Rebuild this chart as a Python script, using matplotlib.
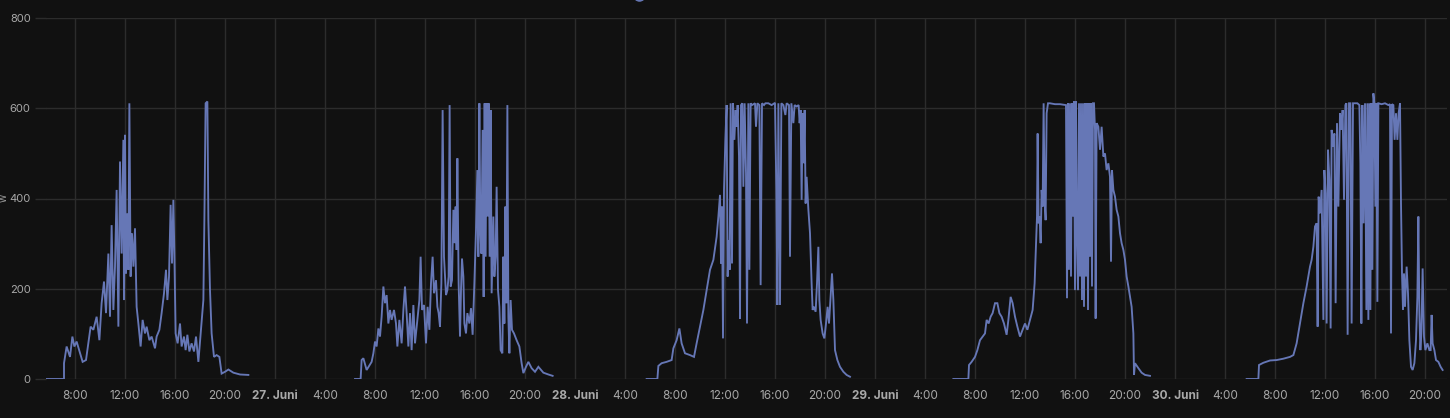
import matplotlib
matplotlib.use('Agg')
import matplotlib.pyplot as plt
from matplotlib.lines import Line2D
import numpy as np
import pandas as pd

# power readings (W) per day, hour of day
days = ['2024-06-26', '2024-06-27', '2024-06-28', '2024-06-29', '2024-06-30']

hours_26 = [5.73, 7.12, 7.12, 7.33, 7.60, 7.79, 7.95, 8.13, 8.61, 8.88, 9.25, 9.47, 9.73, 9.95, 10.13,
            10.32, 10.48, 10.67, 10.80, 10.93, 11.07, 11.20, 11.33, 11.47, 11.60, 11.73, 11.87, 11.92,
            12.00, 12.08, 12.19, 12.27, 12.35, 12.45, 12.56, 12.67, 12.80, 12.93, 13.07, 13.25, 13.41,
            13.60, 13.73, 13.95, 14.13, 14.40, 14.53, 14.75, 14.93, 15.12, 15.28, 15.39, 15.52, 15.65,
            15.76, 15.87, 15.95, 16.05, 16.21, 16.40, 16.53, 16.72, 16.85, 16.99, 17.15, 17.33, 17.52,
            17.68, 17.87, 18.05, 18.27, 18.35, 18.45, 18.59, 18.67, 18.80, 18.93, 19.12, 19.33, 19.55,
            19.73, 20.00, 20.27, 20.67, 21.20, 21.87]
watts_26 = [0, 0, 35, 72, 49, 94, 72, 83, 38, 42, 116, 109, 138, 86, 168,
            216, 146, 278, 138, 341, 153, 249, 419, 116, 482, 278, 530, 175,
            541, 234, 367, 242, 611, 227, 323, 249, 334, 160, 123, 72, 131,
            101, 116, 86, 94, 68, 94, 109, 146, 190, 242, 175, 227, 386,
            256, 397, 278, 101, 79, 123, 72, 94, 64, 98, 61, 79, 61,
            94, 38, 101, 175, 352, 611, 615, 352, 197, 101, 49, 53, 49,
            12, 16, 21, 14, 10, 9]

hours_27 = [6.40, 6.85, 6.93, 7.07, 7.33, 7.73, 7.87, 8.00, 8.13, 8.27, 8.40, 8.53, 8.67, 8.80, 8.93,
            9.07, 9.20, 9.33, 9.52, 9.68, 9.79, 9.95, 10.13, 10.27, 10.40, 10.53, 10.67, 10.80, 10.93,
            11.07, 11.20, 11.39, 11.55, 11.65, 11.76, 11.92, 12.08, 12.21, 12.35, 12.48, 12.61, 12.72,
            12.88, 12.99, 13.09, 13.20, 13.31, 13.41, 13.52, 13.68, 13.79, 13.89, 13.97, 14.05, 14.16,
            14.27, 14.37, 14.45, 14.53, 14.59, 14.69, 14.80, 14.88, 14.96, 15.07, 15.15, 15.28, 15.39,
            15.55, 15.68, 15.81, 15.95, 16.08, 16.19, 16.27, 16.35, 16.43, 16.51, 16.61, 16.69, 16.77,
            16.85, 16.93, 17.01, 17.09, 17.17, 17.25, 17.33, 17.47, 17.55, 17.65, 17.73, 17.84, 17.95,
            18.05, 18.19, 18.27, 18.35, 18.43, 18.51, 18.59, 18.67, 18.75, 18.85, 18.96, 19.12, 19.33,
            19.55, 19.73, 19.87, 20.08, 20.27, 20.53, 20.80, 21.07, 21.47, 21.87, 22.21]
watts_27 = [0, 0, 42, 46, 20, 38, 57, 83, 72, 112, 94, 138, 205, 168, 186,
            123, 153, 131, 153, 123, 72, 131, 79, 153, 205, 146, 72, 146, 64,
            164, 79, 131, 175, 271, 153, 164, 79, 160, 109, 212, 271, 190,
            219, 160, 146, 116, 212, 596, 271, 186, 197, 227, 607, 205, 219,
            375, 301, 382, 286, 489, 212, 94, 197, 267, 227, 123, 101, 146,
            123, 157, 98, 212, 330, 463, 271, 611, 323, 278, 552, 182, 611,
            271, 611, 360, 611, 271, 596, 190, 360, 227, 271, 426, 197, 160,
            64, 57, 271, 123, 382, 168, 607, 138, 57, 175, 109, 101, 86,
            72, 35, 13, 27, 38, 24, 16, 27, 14, 10, 7]

hours_28 = [5.73, 6.59, 6.67, 6.93, 7.33, 7.73, 7.87, 8.13, 8.35, 8.53, 8.80, 9.20, 9.52, 9.73, 10.00,
            10.27, 10.53, 10.80, 11.07, 11.33, 11.47, 11.60, 11.68, 11.76, 11.84, 11.92, 12.03, 12.13,
            12.21, 12.29, 12.37, 12.45, 12.56, 12.64, 12.75, 12.85, 12.93, 13.01, 13.12, 13.20, 13.28,
            13.39, 13.47, 13.57, 13.68, 13.76, 13.87, 13.95, 14.05, 14.16, 14.40, 14.48, 14.59, 14.75,
            14.85, 14.96, 15.12, 15.23, 15.47, 15.73, 16.00, 16.11, 16.19, 16.27, 16.40, 16.51, 16.67,
            16.83, 16.93, 17.12, 17.20, 17.31, 17.47, 17.57, 17.73, 17.89, 17.97, 18.05, 18.13, 18.21,
            18.29, 18.37, 18.45, 18.53, 18.67, 18.80, 18.93, 19.01, 19.12, 19.25, 19.36, 19.47, 19.55,
            19.65, 19.81, 19.95, 20.08, 20.21, 20.32, 20.45, 20.56, 20.67, 20.80, 20.99, 21.20, 21.47,
            21.73, 22.00]
watts_28 = [0, 0, 29, 35, 38, 42, 68, 86, 112, 79, 57, 53, 49, 79, 116,
            153, 197, 242, 264, 315, 360, 408, 256, 382, 90, 419, 530, 607,
            227, 308, 242, 611, 256, 611, 530, 596, 559, 607, 493, 134, 607,
            611, 426, 611, 456, 123, 611, 242, 611, 607, 611, 559, 611, 607,
            208, 611, 607, 611, 611, 607, 612, 419, 164, 611, 164, 611, 607,
            585, 611, 607, 271, 611, 567, 607, 604, 607, 567, 596, 397, 589,
            478, 596, 389, 448, 375, 323, 212, 153, 160, 149, 212, 293, 175,
            131, 101, 90, 123, 160, 123, 182, 234, 175, 64, 42, 27, 16,
            9, 5]

hours_29 = [6.27, 7.47, 7.52, 7.73, 8.00, 8.19, 8.40, 8.61, 8.80, 8.93, 9.09, 9.25, 9.41, 9.60, 9.79,
            9.95, 10.13, 10.32, 10.53, 10.67, 10.85, 11.01, 11.20, 11.39, 11.60, 11.81, 12.00, 12.19,
            12.40, 12.61, 12.77, 12.88, 12.96, 13.01, 13.09, 13.17, 13.25, 13.33, 13.41, 13.49, 13.57,
            13.65, 13.73, 13.84, 14.00, 14.40, 14.80, 15.28, 15.36, 15.44, 15.52, 15.60, 15.68, 15.76,
            15.84, 15.92, 16.00, 16.08, 16.16, 16.24, 16.32, 16.40, 16.48, 16.56, 16.64, 16.72, 16.80,
            16.88, 16.96, 17.04, 17.12, 17.20, 17.28, 17.36, 17.44, 17.52, 17.60, 17.65, 17.73, 17.87,
            18.00, 18.13, 18.27, 18.40, 18.53, 18.67, 18.80, 18.88, 18.96, 19.07, 19.20, 19.33, 19.47,
            19.60, 19.73, 19.87, 20.00, 20.13, 20.27, 20.40, 20.53, 20.67, 20.72, 20.80, 21.07, 21.33,
            21.60, 22.00]
watts_29 = [0, 0, 31, 38, 49, 64, 86, 94, 101, 131, 123, 138, 146, 168, 168,
            146, 138, 123, 98, 131, 182, 168, 138, 116, 94, 109, 123, 109,
            131, 153, 212, 301, 360, 544, 345, 360, 301, 419, 382, 611, 397,
            352, 589, 611, 611, 609, 609, 607, 179, 611, 242, 611, 227, 611,
            360, 615, 197, 615, 308, 197, 611, 227, 611, 175, 611, 160, 611,
            227, 611, 153, 611, 271, 611, 205, 611, 611, 552, 134, 567, 559,
            508, 559, 493, 500, 463, 478, 448, 260, 463, 419, 404, 375, 360,
            323, 301, 286, 264, 227, 205, 182, 160, 101, 9, 35, 24, 14,
            9, 7]

hours_30 = [5.73, 6.67, 6.72, 7.07, 7.60, 8.13, 8.67, 9.20, 9.47, 9.73, 10.00, 10.27, 10.53, 10.80,
            10.93, 11.07, 11.20, 11.33, 11.41, 11.49, 11.60, 11.73, 11.87, 11.95, 12.05, 12.13, 12.24,
            12.35, 12.45, 12.53, 12.64, 12.75, 12.85, 12.96, 13.07, 13.20, 13.31, 13.41, 13.52, 13.63,
            13.71, 13.81, 13.92, 14.03, 14.13, 14.24, 14.40, 14.59, 14.75, 14.83, 14.91, 14.99, 15.09,
            15.20, 15.31, 15.39, 15.47, 15.55, 15.63, 15.71, 15.79, 15.87, 15.95, 16.03, 16.11, 16.19,
            16.27, 16.53, 16.80, 17.07, 17.20, 17.28, 17.36, 17.47, 17.57, 17.68, 17.79, 17.89, 18.00,
            18.08, 18.16, 18.24, 18.32, 18.40, 18.53, 18.64, 18.75, 18.88, 19.01, 19.15, 19.28, 19.39,
            19.47, 19.55, 19.63, 19.71, 19.81, 19.92, 20.03, 20.19, 20.35, 20.45, 20.53, 20.61, 20.75,
            20.88, 21.07, 21.25, 21.41]
watts_30 = [0, 0, 31, 36, 41, 42, 45, 49, 53, 79, 123, 168, 205, 249,
            264, 293, 338, 345, 116, 404, 367, 419, 131, 463, 411, 123, 508,
            441, 112, 552, 515, 544, 168, 567, 382, 589, 552, 596, 397, 607,
            611, 98, 611, 611, 123, 611, 611, 611, 607, 478, 123, 607, 345,
            611, 153, 611, 131, 611, 153, 611, 242, 633, 611, 382, 611, 171,
            611, 609, 611, 607, 609, 101, 609, 607, 530, 589, 530, 589, 611,
            389, 234, 153, 234, 160, 249, 190, 86, 27, 20, 35, 86, 182,
            360, 146, 64, 101, 245, 94, 64, 79, 64, 64, 142, 79, 64,
            42, 38, 27, 20]

all_hours = [hours_26, hours_27, hours_28, hours_29, hours_30]
all_watts = [watts_26, watts_27, watts_28, watts_29, watts_30]

y_ticks = [0, 200, 400, 600, 800]
month_name = 'Juni'

bg = '#111111'
grid_c = '#2c2c2c'
text_c = '#a8a8a8'
line_c = '#6677b6'

fig = plt.figure(figsize=(14.5, 4.18), dpi=100, facecolor=bg)
ax = fig.add_axes([46 / 1450, 1 - 379 / 418, 1401 / 1450, 361 / 418])
ax.set_facecolor(bg)

t_parts, w_parts = [], []
for d, hs, ws in zip(days, all_hours, all_watts):
    base = pd.Timestamp(d)
    t_parts.append(base + pd.to_timedelta(np.array(hs), unit='h'))
    w_parts.append(np.array(ws, dtype=float))
    # break the line between days (no readings overnight)
    t_parts.append(pd.DatetimeIndex([base + pd.Timedelta(hours=23)]))
    w_parts.append(np.array([np.nan]))

times = np.concatenate([np.asarray(p) for p in t_parts])
watts = np.concatenate(w_parts)
ax.plot(times, watts, color=line_c, lw=1.35, solid_joinstyle='miter')

start = pd.Timestamp(days[0]) + pd.Timedelta(hours=5.68)
end = pd.Timestamp(days[-1]) + pd.Timedelta(hours=21.76)
ax.set_xlim(start, end)
ax.set_ylim(0, 800)

# tick every 4 h, midnight gets the date
ticks = pd.date_range(pd.Timestamp(days[0]) + pd.Timedelta(hours=8), end, freq='4h')
ax.set_xticks(ticks)
labels = []
for t in ticks:
    if t.hour == 0:
        labels.append(f'{t.day}. {month_name}')
    else:
        labels.append(f'{t.hour}:00')
ax.set_xticklabels(labels)
for lab, t in zip(ax.get_xticklabels(), ticks):
    if t.hour == 0:
        lab.set_fontweight('bold')

ax.set_yticks(y_ticks)
ax.grid(True, color=grid_c, lw=1)
ax.set_axisbelow(True)
for s in ax.spines.values():
    s.set_visible(False)

ax.tick_params(axis='x', length=0, pad=8, colors=text_c, labelsize=8.5)
ax.tick_params(axis='y', length=8, width=1, pad=3, colors=text_c, labelsize=8)
ax.tick_params(axis='y', color=grid_c)
for lab in ax.get_xticklabels() + ax.get_yticklabels():
    lab.set_fontfamily('Inter')

# unit label squeezed against the left edge
fig.text(4 / 1450, 1 - 198 / 418, 'W', rotation=90, color=text_c, fontsize=6,
         fontfamily='Inter', ha='center', va='center')

# legend mostly clipped at the top edge
fig.add_artist(Line2D([639 / 1450], [1 + 5 / 418], marker='o', markersize=8,
                      color=line_c, transform=fig.transFigure))

fig.savefig('out.png', dpi=100, facecolor=bg)
